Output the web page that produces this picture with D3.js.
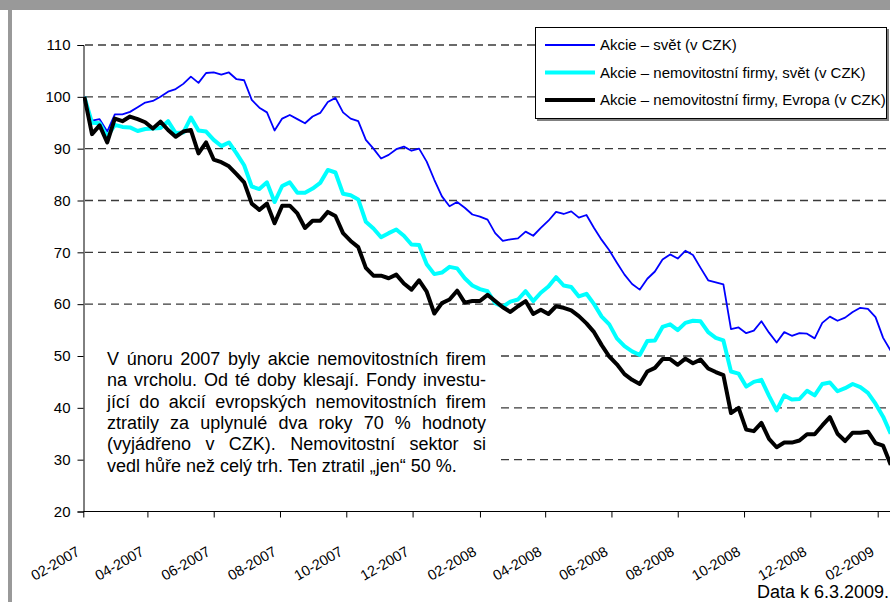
<!DOCTYPE html>
<html lang="cs">
<head>
<meta charset="UTF-8">
<title>Akcie nemovitostních firem</title>
<script src="https://d3js.org/d3.v7.min.js"></script>
<style>
    body { margin: 0; background: #fff; }
    svg { display: block; font-family: "Liberation Sans", Arial, sans-serif; }
</style>
</head>
<body>
<svg id="chart"></svg>
<script>
    // weekly observations, first one on 2.2.2007
    const firstWeek = "2007-02-02";
    const tickLabels = ["02-2007", "04-2007", "06-2007", "08-2007", "10-2007", "12-2007",
        "02-2008", "04-2008", "06-2008", "08-2008", "10-2008", "12-2008", "02-2009"];
    const yTicks = [20, 30, 40, 50, 60, 70, 80, 90, 100, 110];

    const seriesNames = ["Akcie – svět (v CZK)",
        "Akcie – nemovitostní firmy, svět (v CZK)",
        "Akcie – nemovitostní firmy, Evropa (v CZK)"];

    const svet = [100, 95.4, 95.7, 93.3, 96.6, 96.6, 97.1, 98.0, 98.9, 99.2,
        100, 101, 101.5, 102.5, 103.9, 102.7, 104.6, 104.7, 104.3, 104.7,
        103.4, 103.2, 99.4, 97.9, 97, 93.5, 95.8, 96.5, 95.7, 94.9,
        96.2, 96.9, 99, 99.8, 97, 95.8, 95.3, 91.7, 90, 88.1,
        88.8, 89.9, 90.4, 89.6, 90, 87.5, 84, 80.8, 78.9, 79.7,
        78.6, 77.3, 76.9, 76.3, 73.7, 72.2, 72.5, 72.7, 74, 73.2,
        74.7, 76.1, 77.8, 77.4, 77.9, 76.7, 77.2, 74.7, 72.4, 70.4,
        68, 65.7, 63.9, 62.8, 64.9, 66.3, 68.6, 69.6, 68.8, 70.3,
        69.5, 67, 64.6, 64.2, 63.8, 55.2, 55.5, 54.4, 54.9, 56.7,
        54.5, 52.6, 54.6, 53.9, 54.4, 54.3, 53.4, 56.4, 57.6, 56.8,
        57.4, 58.5, 59.3, 59.1, 57.5, 53.5, 51.0];

    const nemovitostiSvet = [100, 95.0, 94.9, 92.3, 94.6, 94.2, 94.1, 93.4, 93.8, 93.9,
        94.0, 95.3, 93.0, 93.1, 96.0, 93.5, 93.3, 91.7, 90.5, 91.2,
        89.1, 86.8, 82.7, 82.2, 83.5, 79.7, 82.8, 83.5, 81.5, 81.5,
        82.3, 83.4, 85.9, 85.4, 81.3, 81.0, 80.2, 75.9, 74.6, 72.9,
        73.7, 74.4, 73.2, 71.5, 71.4, 67.7, 65.8, 66.1, 67.2, 66.9,
        65.0, 63.6, 62.9, 62.5, 60.2, 59.5, 60.5, 60.9, 62.5, 60.6,
        62.2, 63.4, 65.2, 63.6, 63.3, 61.5, 62.0, 60.0, 57.6, 56.1,
        53.4, 51.9, 50.9, 50.2, 52.9, 53.0, 55.6, 56.1, 55.0, 56.4,
        56.8, 56.7, 54.6, 53.5, 53.0, 47.0, 46.6, 44.1, 45.0, 45.4,
        42.3, 39.5, 42.4, 41.6, 41.7, 43.3, 42.4, 44.6, 44.9, 43.2,
        43.8, 44.6, 44.0, 42.9, 40.8, 38.3, 35.0];

    const nemovitostiEvropa = [100, 92.8, 94.5, 91.2, 95.8, 95.3, 96.2, 95.7, 95.1, 93.9,
        95.2, 93.6, 92.3, 93.3, 93.6, 89.1, 91.2, 87.9, 87.4, 86.6,
        85.1, 83.5, 79.4, 78.2, 79.4, 75.6, 79.0, 79.0, 77.5, 74.7,
        76.1, 76.1, 77.8, 77.0, 73.7, 72.2, 71.0, 67.0, 65.5, 65.5,
        65.0, 65.7, 64.0, 62.8, 64.6, 62.4, 58.2, 60.2, 60.9, 62.6,
        60.3, 60.6, 60.6, 61.8, 60.6, 59.4, 58.5, 59.6, 60.6, 58.1,
        58.9, 58.1, 59.6, 59.3, 58.8, 57.7, 56.3, 54.6, 52.1, 49.9,
        48.4, 46.5, 45.4, 44.6, 47.0, 47.7, 49.4, 49.4, 48.3, 49.5,
        48.6, 49.3, 47.6, 46.9, 46.3, 39.0, 40.0, 35.8, 35.5, 37.1,
        34.0, 32.4, 33.3, 33.3, 33.7, 34.9, 34.9, 36.6, 38.2, 35.0,
        33.6, 35.2, 35.2, 35.4, 33.2, 32.7, 29.0];

    const noteLines = ["V únoru 2007 byly akcie nemovitostních firem",
        "na vrcholu. Od té doby klesají. Fondy investu-",
        "jící do akcií evropských nemovitostních firem",
        "ztratily za uplynulé dva roky 70 % hodnoty",
        "(vyjádřeno v CZK). Nemovitostní sektor si",
        "vedl hůře než celý trh. Ten ztratil „jen“ 50 %."];
    const footnote = "Data k 6.3.2009.";

    const width = 890;
    const height = 602;
    const svg = d3.select("#chart").attr("width", width).attr("height", height);

    const parseDay = d3.timeParse("%Y-%m-%d");
    const parseTick = d3.timeParse("%m-%Y");
    const start = parseDay(firstWeek);
    const weeks = svet.map((d, i) => d3.timeDay.offset(start, 7 * i));

    const x = d3.scaleTime()
        .domain([parseTick("02-2007"), parseTick("02-2009")])
        .range([83.3, 877.7]);
    const y = d3.scaleLinear().domain([20, 110]).range([511.5, 45]);

    // frame
    svg.append("rect").attr("x", 0).attr("y", 0).attr("width", width).attr("height", 10).attr("fill", "#999");
    svg.append("rect").attr("x", 8).attr("y", 10).attr("width", 4).attr("height", height - 10).attr("fill", "#999");

    // grid lines
    svg.append("g")
        .selectAll("line")
        .data(yTicks.filter(d => d > 20))
        .enter()
        .append("line")
        .attr("x1", 85).attr("x2", width)
        .attr("y1", d => y(d)).attr("y2", d => y(d))
        .attr("stroke", "#3a3a3a")
        .attr("stroke-width", 1.4)
        .attr("stroke-dasharray", "8,5");

    // y axis
    const yAxis = svg.append("g")
        .attr("transform", "translate(83.5,0)")
        .call(d3.axisLeft(y).tickValues(yTicks).tickSize(6).tickPadding(7));
    yAxis.select(".domain").attr("stroke", "#000");
    yAxis.selectAll(".tick line").attr("stroke", "#000");
    yAxis.selectAll(".tick text")
        .attr("font-family", "'Liberation Sans', Arial, sans-serif")
        .attr("font-size", "15px")
        .attr("fill", "#000");

    // x axis
    const xAxis = svg.append("g")
        .attr("transform", "translate(0,511.5)")
        .call(d3.axisBottom(x)
            .tickValues(tickLabels.map(parseTick))
            .tickSize(6)
            .tickSizeOuter(0)
            .tickFormat(d3.timeFormat("%m-%Y")));
    xAxis.select(".domain").attr("stroke", "#000").attr("d", `M83.5,0H${width}`);
    xAxis.selectAll(".tick line").attr("stroke", "#000");
    xAxis.selectAll(".tick text")
        .attr("font-family", "'Liberation Sans', Arial, sans-serif")
        .attr("font-size", "14.5px")
        .attr("fill", "#000")
        .attr("text-anchor", "end")
        .attr("dy", 0)
        .attr("y", 0)
        .attr("transform", "translate(-3,43) rotate(-30)");

    // white panel behind the note
    svg.append("rect")
        .attr("x", 85).attr("y", 330)
        .attr("width", 412).attr("height", 160)
        .attr("fill", "#fff");

    // lines
    svg.append("clipPath").attr("id", "plotClip")
        .append("rect").attr("x", 83).attr("y", 0).attr("width", width - 83).attr("height", height);

    const line = d3.line()
        .x((d, i) => x(weeks[i]))
        .y(d => y(d));

    const series = [
        { name: seriesNames[0], values: svet, color: "#0000ff", w: 1.8 },
        { name: seriesNames[1], values: nemovitostiSvet, color: "#00ffff", w: 4 },
        { name: seriesNames[2], values: nemovitostiEvropa, color: "#000000", w: 4 }
    ];

    svg.append("g").attr("clip-path", "url(#plotClip)")
        .selectAll("path")
        .data(series)
        .enter()
        .append("path")
        .attr("d", d => line(d.values))
        .attr("fill", "none")
        .attr("stroke", d => d.color)
        .attr("stroke-width", d => d.w)
        .attr("stroke-linejoin", "round");

    // legend
    const legend = svg.append("g");
    legend.append("rect")
        .attr("x", 537).attr("y", 29).attr("width", 352).attr("height", 92)
        .attr("fill", "#808080");
    legend.append("rect")
        .attr("x", 535.5).attr("y", 27.5).attr("width", 351).attr("height", 91)
        .attr("fill", "#fff").attr("stroke", "#000").attr("stroke-width", 1);

    const rows = legend.selectAll(".row")
        .data(series)
        .enter()
        .append("g")
        .attr("class", "row")
        .attr("transform", (d, i) => `translate(0,${45 + i * 27.5})`);
    rows.append("line")
        .attr("x1", 545).attr("x2", 595)
        .attr("stroke", d => d.color)
        .attr("stroke-width", d => d.w);
    rows.append("text")
        .attr("x", 600)
        .attr("dy", "0.35em")
        .attr("font-size", "15px")
        .text(d => d.name);

    // note
    const noteX = 107, noteRight = 486;
    const note = svg.append("g")
        .attr("font-size", "18px")
        .attr("fill", "#000");
    note.selectAll("text")
        .data(noteLines)
        .enter()
        .append("text")
        .attr("x", noteX)
        .attr("y", (d, i) => 365 + i * 21.3)
        .text(d => d)
        .each(function (d, i) {
            if (i === noteLines.length - 1) return;
            const spaces = d.split(" ").length - 1;
            const extra = (noteRight - noteX - this.getComputedTextLength()) / spaces;
            d3.select(this).attr("word-spacing", extra);
        });

    svg.append("text")
        .attr("x", 889)
        .attr("y", 598)
        .attr("text-anchor", "end")
        .attr("font-size", "18px")
        .text(footnote);
</script>
</body>
</html>
